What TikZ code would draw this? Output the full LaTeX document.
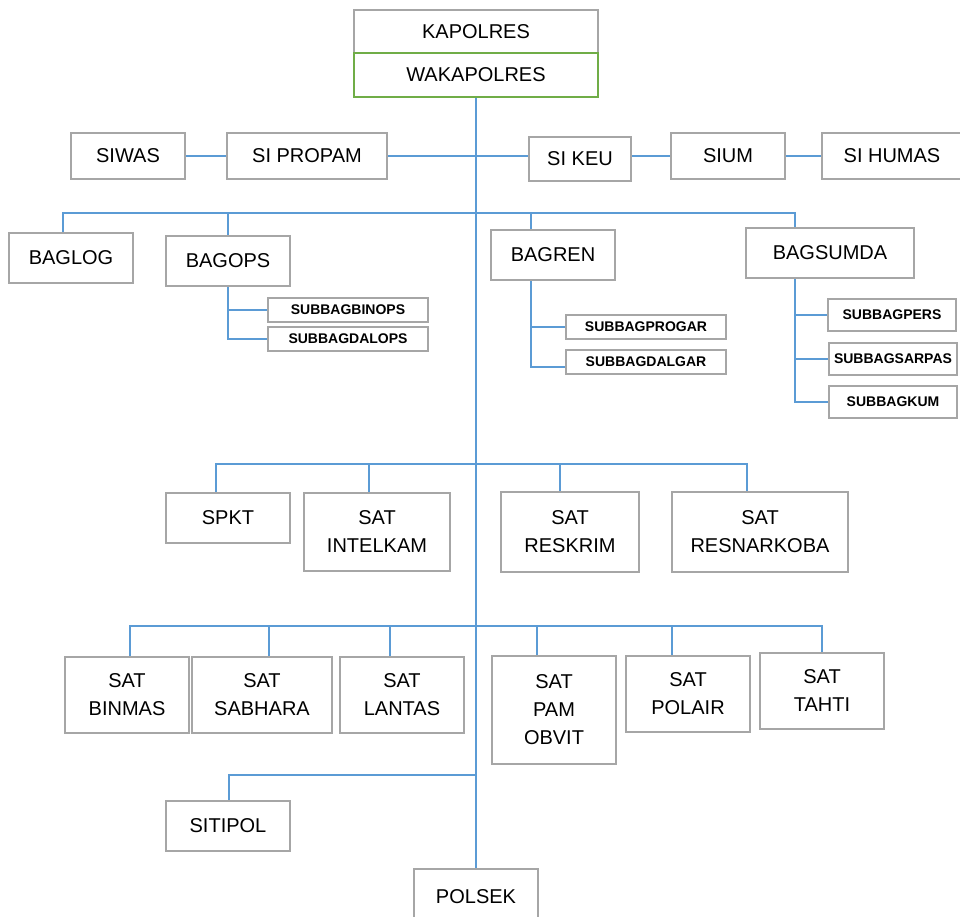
\documentclass[tikz,border=0pt]{standalone}
\usepackage{fontspec}
\setmainfont{Liberation Sans}
\definecolor{linkblue}{RGB}{91,155,213}
\definecolor{boxgray}{RGB}{166,166,166}
\definecolor{boxgreen}{RGB}{112,173,71}

\begin{document}
\begin{tikzpicture} [x=1pt, y=-1pt,
unit/.style={draw=boxgray, line width=2pt, inner sep=0pt, align=center,
  font=\fontsize{20}{28}\selectfont},
subunit/.style={unit, font=\bfseries\fontsize{14}{16}\selectfont},
link/.style={draw=linkblue, line width=2pt}]
%    sizes in pixels of the reference

\useasboundingbox (0,0) rectangle (960,917);

% pimpinan
\node[unit, minimum width=244pt, minimum height=43pt] (kapolres) at (476,31.5) {KAPOLRES};
\node[unit, draw=boxgreen, minimum width=244pt, minimum height=44pt] (wakapolres) at (476,75) {WAKAPOLRES};

% staf seksi
\node[unit, minimum width=114pt, minimum height=46pt] (siwas) at (128,156) {SIWAS};
\node[unit, minimum width=160pt, minimum height=46pt] (sipropam) at (307,156) {SI PROPAM};
\node[unit, minimum width=102pt, minimum height=44pt] (sikeu) at (580,159) {SI KEU};
\node[unit, minimum width=114pt, minimum height=46pt] (sium) at (728,156) {SIUM};
\node[unit, minimum width=140pt, minimum height=46pt] (sihumas) at (892,156) {SI HUMAS};

% bagian
\node[unit, minimum width=124pt, minimum height=50pt] (baglog) at (71,258) {BAGLOG};
\node[unit, minimum width=124pt, minimum height=50pt] (bagops) at (228,261) {BAGOPS};
\node[unit, minimum width=124pt, minimum height=50pt] (bagren) at (553,255) {BAGREN};
\node[unit, minimum width=168pt, minimum height=50pt] (bagsumda) at (830,253) {BAGSUMDA};

\node[subunit, minimum width=160pt, minimum height=24pt] (binops) at (348,310) {SUBBAGBINOPS};
\node[subunit, minimum width=160pt, minimum height=24pt] (dalops) at (348,339) {SUBBAGDALOPS};
\node[subunit, minimum width=160pt, minimum height=24pt] (progar) at (646,327) {SUBBAGPROGAR};
\node[subunit, minimum width=160pt, minimum height=24pt] (dalgar) at (646,362) {SUBBAGDALGAR};
\node[subunit, minimum width=128pt, minimum height=32pt] (pers) at (892,315) {SUBBAGPERS};
\node[subunit, minimum width=128pt, minimum height=32pt] (sarpas) at (893,359) {SUBBAGSARPAS};
\node[subunit, minimum width=128pt, minimum height=32pt] (kum) at (893,402) {SUBBAGKUM};

% satuan
\node[unit, minimum width=124pt, minimum height=50pt] (spkt) at (228,518) {SPKT};
\node[unit, minimum width=146pt, minimum height=78pt] (intelkam) at (377,532) {SAT\\INTELKAM};
\node[unit, minimum width=138pt, minimum height=80pt] (reskrim) at (570,532) {SAT\\RESKRIM};
\node[unit, minimum width=176pt, minimum height=80pt] (resnarkoba) at (760,532) {SAT\\RESNARKOBA};

\node[unit, minimum width=124pt, minimum height=76pt] (binmas) at (127,695) {SAT\\BINMAS};
\node[unit, minimum width=140pt, minimum height=76pt] (sabhara) at (262,695) {SAT\\SABHARA};
\node[unit, minimum width=124pt, minimum height=76pt] (lantas) at (402,695) {SAT\\LANTAS};
\node[unit, minimum width=124pt, minimum height=108pt] (pamobvit) at (554,710) {SAT\\PAM\\OBVIT};
\node[unit, minimum width=124pt, minimum height=76pt] (polair) at (688,694) {SAT\\POLAIR};
\node[unit, minimum width=124pt, minimum height=76pt] (tahti) at (822,691) {SAT\\TAHTI};

\node[unit, minimum width=124pt, minimum height=50pt] (sitipol) at (228,826) {SITIPOL};
\node[unit, minimum width=124pt, minimum height=56pt] (polsek) at (476,897) {POLSEK};

% garis
\coordinate (bagbus) at (476,213);
\coordinate (satbus) at (476,464);
\coordinate (sattwobus) at (476,626);
\coordinate (sibus) at (476,775);

\draw[link] (wakapolres.south) -- (polsek.north);
\draw[link] (siwas.east) -- (sipropam.west);
\draw[link] (sipropam.east) -- (sipropam.east -| sikeu.west);
\draw[link] (sium.west -| sikeu.east) -- (sium.west);
\draw[link] (sium.east) -- (sihumas.west);

\draw[link] (bagbus) -| ([xshift=-8pt]baglog.north);
\draw[link] (bagbus) -| (bagops.north);
\draw[link] (bagbus) -| ([xshift=-22pt]bagren.north);
\draw[link] (bagbus) -| ([xshift=-35pt]bagsumda.north);

\draw[link] (bagops.south) |- (binops.west);
\draw[link] (bagops.south) |- (dalops.west);
\draw[link] ([xshift=-22pt]bagren.south) |- (progar.west);
\draw[link] ([xshift=-22pt]bagren.south) |- ([yshift=-5pt]dalgar.west);
\draw[link] ([xshift=-35pt]bagsumda.south) |- (pers.west);
\draw[link] ([xshift=-35pt]bagsumda.south) |- (sarpas.west);
\draw[link] ([xshift=-35pt]bagsumda.south) |- (kum.west);

\draw[link] (satbus) -| ([xshift=-12pt]spkt.north);
\draw[link] (satbus) -| ([xshift=-8pt]intelkam.north);
\draw[link] (satbus) -| ([xshift=-10pt]reskrim.north);
\draw[link] (satbus) -| ([xshift=-13pt]resnarkoba.north);

\draw[link] (sattwobus) -| ([xshift=3pt]binmas.north);
\draw[link] (sattwobus) -| ([xshift=7pt]sabhara.north);
\draw[link] (sattwobus) -| ([xshift=-12pt]lantas.north);
\draw[link] (sattwobus) -| ([xshift=-17pt]pamobvit.north);
\draw[link] (sattwobus) -| ([xshift=-16pt]polair.north);
\draw[link] (sattwobus) -| (tahti.north);

\draw[link] (sibus) -| ([xshift=1pt]sitipol.north);

\end{tikzpicture}
\end{document}
